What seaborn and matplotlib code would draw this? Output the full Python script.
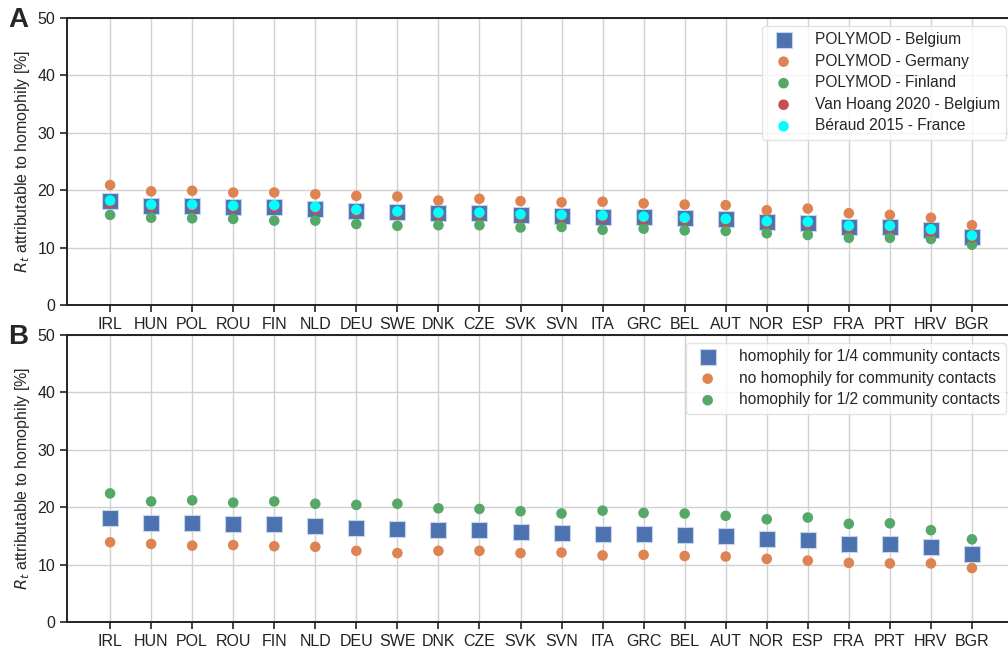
import pandas as pd
import matplotlib.pyplot as plt
import seaborn as sns
import numpy as np

# Países (ordem do eixo x)
countries = ["IRL", "HUN", "POL", "ROU", "FIN", "NLD", "DEU", "SWE", "DNK", "CZE", "SVK",
             "SVN", "ITA", "GRC", "BEL", "AUT", "NOR", "ESP", "FRA", "PRT", "HRV", "BGR"]

# Painel A
polymod_belgium = [18.1, 17.3, 17.2, 17.1, 17.1, 16.8, 16.4, 16.2, 16.1, 16.0, 15.6,
                   15.5, 15.4, 15.3, 15.1, 15.0, 14.4, 14.3, 13.6, 13.6, 13.1, 11.8]
polymod_germany = [20.9, 19.8, 19.9, 19.6, 19.6, 19.3, 19.0, 18.9, 18.2, 18.5, 18.1,
                   17.9, 18.0, 17.7, 17.5, 17.4, 16.5, 16.8, 16.0, 15.7, 15.2, 13.9]
polymod_finland = [15.7, 15.2, 15.1, 15.0, 14.7, 14.7, 14.1, 13.8, 13.9, 13.9, 13.5,
                   13.6, 13.1, 13.3, 13.0, 12.9, 12.5, 12.2, 11.7, 11.7, 11.5, 10.5]
vanhoang_belgium = [17.8, 17.1, 17.1, 16.9, 17.0, 16.7, 16.2, 15.9, 15.7, 15.7, 15.4,
                    15.3, 15.2, 15.0, 14.8, 14.6, 14.2, 14.1, 13.4, 13.4, 12.8, 11.8]
beraud_france = [18.2, 17.5, 17.5, 17.3, 17.4, 17.1, 16.6, 16.3, 16.1, 16.1, 15.8,
                 15.7, 15.6, 15.4, 15.2, 15.0, 14.6, 14.5, 13.8, 13.8, 13.2, 12.1]

# Painel B
hom_quarter = polymod_belgium
no_hom = [13.9, 13.6, 13.3, 13.4, 13.2, 13.1, 12.4, 12.0, 12.4, 12.4, 12.0,
          12.1, 11.6, 11.7, 11.5, 11.4, 11.0, 10.7, 10.3, 10.2, 10.2, 9.4]
hom_half = [22.4, 21.0, 21.2, 20.8, 21.0, 20.6, 20.4, 20.6, 19.8, 19.7, 19.3,
            18.9, 19.4, 19.0, 18.9, 18.5, 17.9, 18.2, 17.1, 17.2, 16.0, 14.4]

sns.set_theme(style="ticks", palette="deep")
plt.rcParams['font.family'] = ['Liberation Sans', 'DejaVu Sans']
plt.rcParams['axes.edgecolor'] = '#222222'
plt.rcParams['axes.linewidth'] = 1.4

pal = sns.color_palette("deep")

fig = plt.figure(figsize=(10.08, 6.52), dpi=100)
W, H = 1008, 652
ax_w = 1013 - 67
ax_a = fig.add_axes([67 / W, 1 - 305 / H, ax_w / W, 287 / H])
ax_b = fig.add_axes([67 / W, 1 - 622 / H, ax_w / W, 287 / H])


def scat(ax, y, marker, s, color, label):
    sns.scatterplot(x=countries, y=y, marker=marker, s=s, color=color, label=label,
                    ax=ax, edgecolor='#c8d4ea' if marker == 's' else 'none',
                    linewidth=0.8, zorder=3)


scat(ax_a, polymod_belgium, 's', 135, pal[0], "POLYMOD - Belgium")
scat(ax_a, polymod_germany, 'o', 58, pal[1], "POLYMOD - Germany")
scat(ax_a, polymod_finland, 'o', 58, pal[2], "POLYMOD - Finland")
scat(ax_a, vanhoang_belgium, 'o', 58, pal[3], "Van Hoang 2020 - Belgium")
scat(ax_a, beraud_france, 'o', 58, 'cyan', "Béraud 2015 - France")

scat(ax_b, hom_quarter, 's', 135, pal[0], "homophily for 1/4 community contacts")
scat(ax_b, no_hom, 'o', 58, pal[1], "no homophily for community contacts")
scat(ax_b, hom_half, 'o', 58, pal[2], "homophily for 1/2 community contacts")

for ax in (ax_a, ax_b):
    ax.set_ylim(0, 50)
    ax.set_xlim(-1.05, 22)
    ax.set_yticks([0, 10, 20, 30, 40, 50])
    ax.grid(True, color='#d0d0d0', linewidth=1.0)
    ax.set_axisbelow(True)
    ax.spines['right'].set_visible(False)
    ax.tick_params(axis='both', labelsize=11.5, length=5, width=1.2, colors='#222222',
                   labelcolor='#222222')
    ax.set_ylabel(r'$R_t$ attributable to homophily [%]', fontsize=11.5)
    ax.set_xlabel('')
    leg = ax.legend(loc='upper right', fontsize=11.2, frameon=True, borderaxespad=0,
                    handletextpad=1.0, labelspacing=0.42, borderpad=0.4,
                    bbox_to_anchor=((1006 - 67) / ax_w, 1 - 8 / 287))
    leg.get_frame().set_edgecolor('#dddddd')

ax_a.set_xticks(range(len(countries)))
ax_a.set_xticklabels(countries)

fig.text(8 / W, 1 - 20 / H, 'A', fontsize=20, fontweight='bold', va='center')
fig.text(8 / W, 1 - 337 / H, 'B', fontsize=20, fontweight='bold', va='center')

plt.savefig("out.png", dpi=100)
plt.close()
